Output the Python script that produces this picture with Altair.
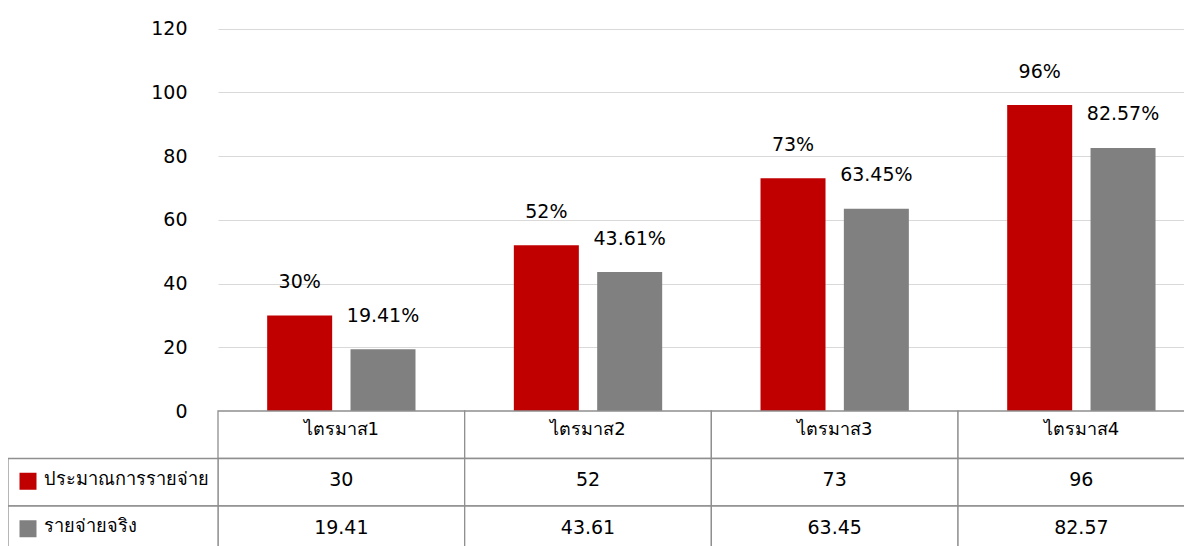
import altair as alt
import pandas as pd

quarters = ["ไตรมาส1", "ไตรมาส2", "ไตรมาส3", "ไตรมาส4"]
series = ["ประมาณการรายจ่าย", "รายจ่ายจริง"]
budget = [30, 52, 73, 96]
actual = [19.41, 43.61, 63.45, 82.57]
colors = ["#c00000", "#808080"]
y_ticks = [0, 20, 40, 60, 80, 100, 120]
header_row = "หัวตาราง"

FONT = "DejaVu Sans"
FS = 19
BORDER = "#8f8f8f"

# plot-area geometry (pixels inside the chart)
COL_RANGE = [209, 1195.7]      # four quarter columns
LEG_RANGE = [-1, 209]          # legend column of the data table
BAR_Y_RANGE = [403, 20.6]      # value 0 .. 120
ROW_RANGE = [403, 545.5]       # three table rows

# ---- long data for bars ----
bars_rows = []
for q, b, a in zip(quarters, budget, actual):
    bars_rows.append({"quarter": q, "series": series[0], "value": b})
    bars_rows.append({"quarter": q, "series": series[1], "value": a})
bars_df = pd.DataFrame(bars_rows)

x_q = alt.X("quarter:N", sort=quarters, axis=None,
            scale=alt.Scale(domain=quarters, range=COL_RANGE, paddingInner=0, paddingOuter=0))
xoff = alt.XOffset("series:N", sort=series,
                   scale=alt.Scale(domain=series, paddingInner=0.22, paddingOuter=0.59))
y_top = alt.Y("value:Q", scale=alt.Scale(domain=[0, 120], range=BAR_Y_RANGE, nice=False, zero=True),
              axis=alt.Axis(values=y_ticks, offset=-209, labelPadding=31, ticks=False,
                            domain=False, gridColor="#d9d9d9", gridWidth=1.2,
                            labelFont=FONT, labelFontSize=FS, labelColor="#000000",
                            title=None))
color_enc = alt.Color("series:N", scale=alt.Scale(domain=series, range=colors), legend=None)

base = alt.Chart(bars_df)
bars = base.mark_bar().encode(x=x_q, xOffset=xoff, y=y_top, color=color_enc)
labels = base.transform_calculate(label="datum.value + '%'").mark_text(
    baseline="middle", dy=-33.5, font=FONT, fontSize=FS, color="#000000"
).encode(x=x_q, xOffset=xoff, y=y_top, text="label:N")
top = alt.layer(bars, labels)

# ---- data table ----
header_df = pd.DataFrame({"quarter": quarters, "row": [header_row] * len(quarters), "txt": quarters})
value_rows = []
for q, b, a in zip(quarters, budget, actual):
    value_rows.append({"quarter": q, "row": series[0], "txt": str(b)})
    value_rows.append({"quarter": q, "row": series[1], "txt": str(a)})
values_df = pd.DataFrame(value_rows)
table_df = pd.concat([header_df, values_df], ignore_index=True)

legend_df = pd.DataFrame({"col": ["legend"] * len(series), "row": series, "series": series})

row_order = [header_row] + series
y_row = alt.Y("row:N", sort=row_order, axis=None,
              scale=alt.Scale(domain=row_order, range=ROW_RANGE, paddingInner=0, paddingOuter=0))
x_leg = alt.X("col:N", axis=None,
              scale=alt.Scale(domain=["legend"], range=LEG_RANGE, paddingInner=0, paddingOuter=0))

cells = alt.Chart(table_df).mark_rect(fill="#ffffff", stroke=BORDER, strokeWidth=1.3).encode(
    x=x_q, y=y_row)
head_text = alt.Chart(header_df).mark_text(
    font=FONT, fontSize=18, color="#000000", baseline="middle", dy=-4.5
).encode(x=x_q, y=y_row, text="txt:N")
cell_text = alt.Chart(values_df).mark_text(
    font=FONT, fontSize=FS, color="#000000", baseline="middle", dy=-2
).encode(x=x_q, y=y_row, text="txt:N")
table = alt.layer(cells, head_text, cell_text)

leg_cells = alt.Chart(legend_df).mark_rect(fill="#ffffff", stroke=BORDER, strokeWidth=1.3).encode(
    x=x_leg, y=y_row)
leg_sq = alt.Chart(legend_df).mark_square(size=289, opacity=1, filled=True, xOffset=-85, yOffset=-1).encode(
    x=x_leg, y=y_row, color=color_enc)
leg_text = alt.Chart(legend_df).mark_text(
    font=FONT, fontSize=18.2, color="#000000", baseline="middle", align="left", dx=-69.5, dy=-2.5
).encode(x=x_leg, y=y_row, text="series:N")
legend = alt.layer(leg_cells, leg_sq, leg_text)

chart = alt.layer(top, table, legend).resolve_scale(
    x="independent", y="independent", color="independent"
).properties(
    width=1175, height=538,
    autosize=alt.AutoSizeParams(type="none"),
    padding={"left": 1, "top": 0, "right": 0, "bottom": 0},
).configure_view(stroke=None)

chart.save("out.html", embed_options={"renderer": "svg", "actions": False})
